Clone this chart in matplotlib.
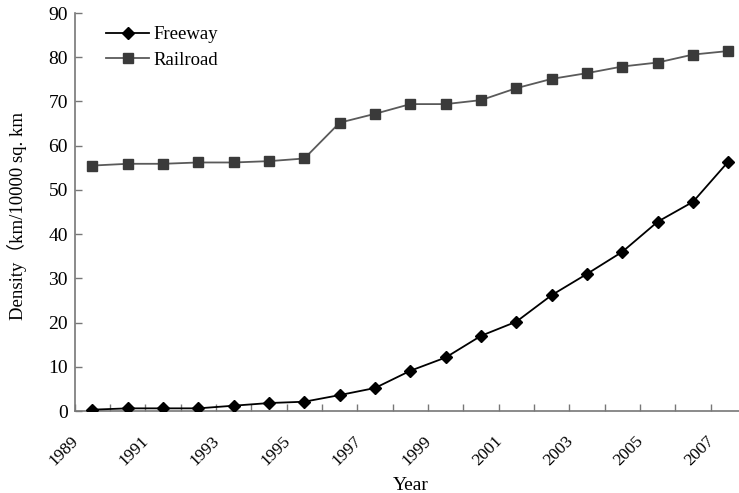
import matplotlib
matplotlib.use("Agg")
import matplotlib.pyplot as plt
import matplotlib.transforms as mtransforms
import numpy as np

years = list(range(1989, 2008))
freeway = [0.3, 0.6, 0.6, 0.6, 1.2, 1.8, 2.1, 3.6, 5.2, 9.1,
           12.1, 17.0, 20.2, 26.2, 31.0, 36.0, 42.8, 47.3, 56.4]
railroad = [55.5, 55.9, 55.9, 56.2, 56.2, 56.5, 57.1, 65.2, 67.2, 69.4,
            69.4, 70.3, 73.0, 75.1, 76.4, 77.9, 78.8, 80.6, 81.4]
yticks = list(range(0, 91, 10))

plt.rcParams['font.family'] = ['Liberation Serif', 'Noto Sans CJK SC', 'DejaVu Sans']

W, H = 739, 493
fig = plt.figure(figsize=(W / 100, H / 100), dpi=100)
left, bottom, top, right = 74.7, 411, 13, 746
ax = fig.add_axes([left / W, (H - bottom) / H, (right - left) / W, (bottom - top) / H])

x = np.arange(len(years))
ax.plot(x, railroad, color='#5a5a5a', lw=1.3, marker='s', ms=6.5,
        mfc='#3a3a3a', mec='#3a3a3a', label='Railroad', zorder=3)
ax.plot(x, freeway, color='black', lw=1.3, marker='D', ms=6.5,
        mfc='black', mec='black', label='Freeway', zorder=4)

ax.set_xlim(-0.5, len(years) - 0.5)
ax.set_ylim(0, 90)
ax.set_yticks(yticks)
ax.tick_params(axis='y', direction='in', length=5, width=1, color='#777777',
               labelsize=14, pad=5)

ax.set_xticks(x[::2])
ax.set_xticklabels([str(y) for y in years[::2]], rotation=45, ha='right',
                   va='top', rotation_mode='anchor', fontsize=12.5)
ax.set_xticks(np.arange(-0.5, len(years), 1), minor=True)
ax.tick_params(axis='x', which='major', length=0, pad=0)
ax.tick_params(axis='x', which='minor', direction='in', length=5, width=1,
               color='#777777')
shift = mtransforms.ScaledTranslation(-22 / 100, -22 / 100, fig.dpi_scale_trans)
for lbl in ax.get_xticklabels():
    lbl.set_transform(lbl.get_transform() + shift)

for side in ('top', 'right'):
    ax.spines[side].set_visible(False)
for side in ('left', 'bottom'):
    ax.spines[side].set_color('#777777')
    ax.spines[side].set_linewidth(1.2)

ax.set_xlabel('Year', fontsize=14, va='top')
ax.xaxis.set_label_coords(0.5, (bottom - 477) / (bottom - top))
ax.set_ylabel('Density（km/10000 sq. km', fontsize=13.5)
ax.yaxis.set_label_coords((27 - left) / (right - left), 0.49)

handles, labels = ax.get_legend_handles_labels()
ax.legend(handles[::-1], labels[::-1], loc='upper left', frameon=False,
          fontsize=13.5, bbox_to_anchor=(0.027, 1.0), handlelength=2.3,
          handletextpad=0.25, labelspacing=0.45, borderaxespad=0.3)

fig.savefig('out.png', dpi=100)
